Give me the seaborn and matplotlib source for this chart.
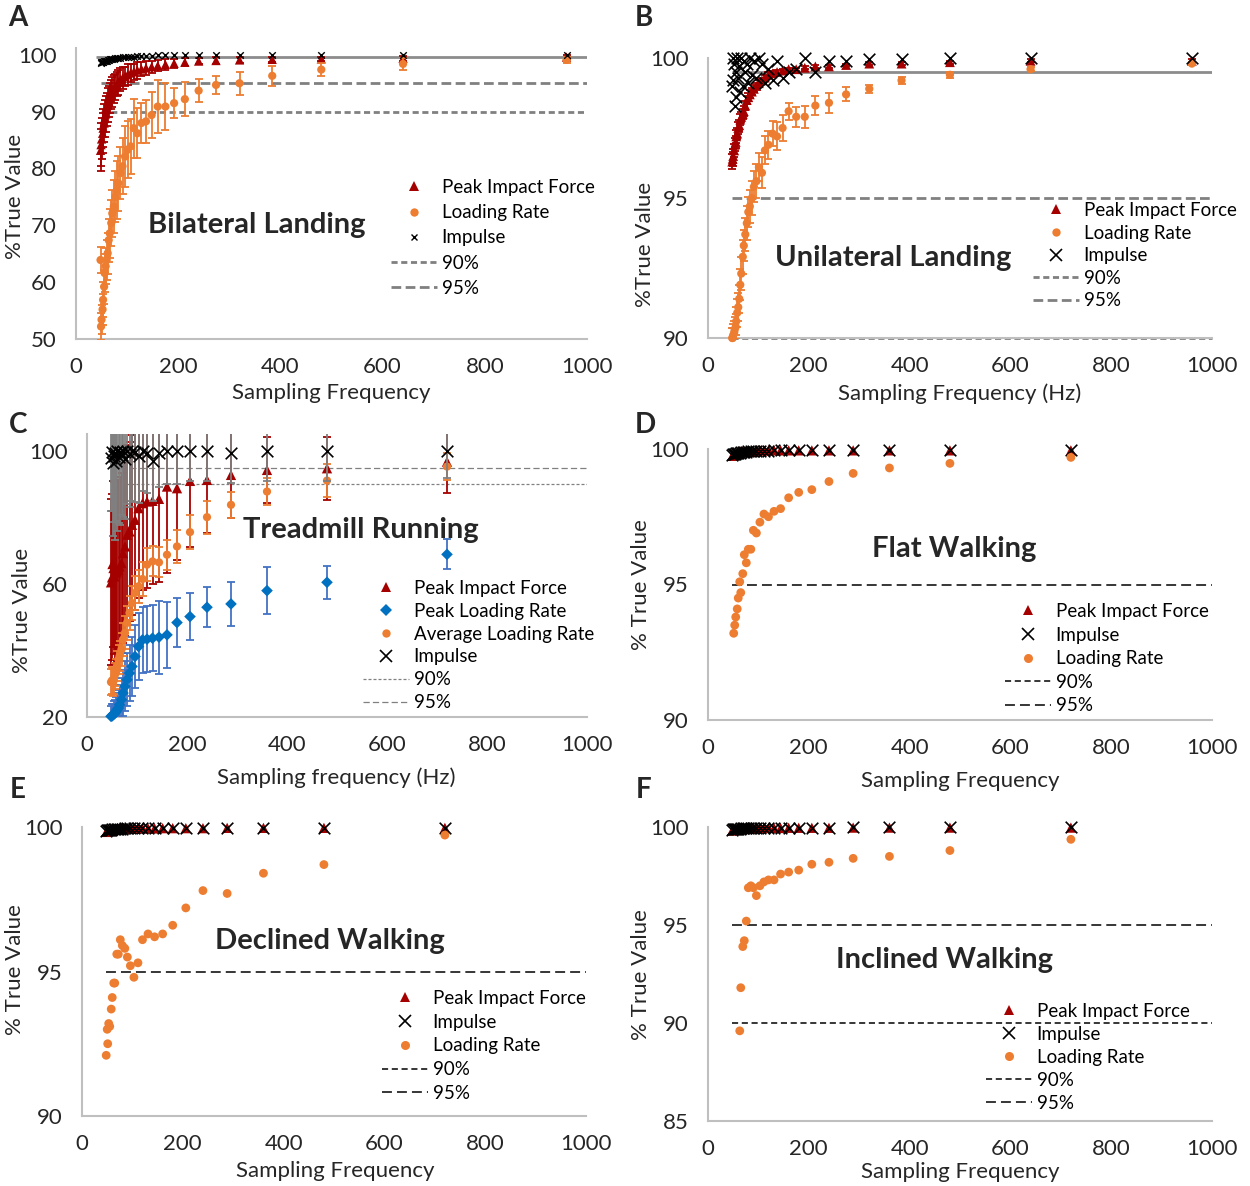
import matplotlib
matplotlib.use("Agg")
import matplotlib.pyplot as plt
from matplotlib.lines import Line2D
import seaborn as sns

# sampling frequencies (Hz)
freq_land = [960, 640, 480, 384, 320, 274, 240, 213, 192, 175, 160, 148, 137, 128, 120, 113, 107, 101, 96, 91,
             87, 83, 80, 77, 74, 71, 69, 66, 64, 62, 60, 58, 56, 55, 53, 52, 50, 49, 48]
freq_walk = [720, 480, 360, 288, 240, 206, 180, 160, 144, 131, 120, 111, 103, 96, 90, 85, 80, 76, 72, 69,
             65, 63, 60, 58, 55, 53, 51, 50, 48]

# A - bilateral landing
a_pif = [99.6, 99.4, 99.3, 99.2, 99.1, 99.0, 98.9, 98.7, 98.5, 98.3, 98.1, 97.9, 97.7, 97.5, 97.3, 97.0, 96.8,
         96.5, 96.2, 95.9, 95.6, 95.2, 94.8, 94.4, 94.0, 93.5, 93.0, 92.4, 91.8, 91.1, 90.4, 89.6, 88.8, 88.0,
         87.1, 86.2, 85.2, 84.2, 83.2]
a_pif_err = [0.3, 0.4, 0.4, 0.5, 0.5, 0.6, 0.6, 0.7, 0.8, 0.9, 1.0, 1.1, 1.2, 1.3, 1.5, 1.4, 1.6, 1.8, 1.7, 1.9,
             2.0, 2.2, 2.1, 2.3, 2.4, 2.6, 2.5, 2.7, 2.8, 3.0, 2.9, 3.1, 3.2, 3.4, 3.3, 3.5, 3.6, 3.8, 3.7]
a_lr = [99.1, 98.4, 97.4, 96.3, 95.0, 94.7, 93.7, 92.2, 91.5, 90.9, 90.9, 89.4, 88.3, 88.0, 86.2, 87.1, 83.9,
        83.3, 82.1, 80.4, 79.2, 77.4, 76.2, 75.0, 73.3, 72.1, 70.4, 68.6, 67.4, 65.1, 63.9, 62.8, 61.6, 59.2,
        56.9, 55.2, 53.4, 52.2, 63.9]
a_lr_err = [0.6, 1.0, 1.2, 1.8, 2.0, 1.6, 2.0, 3.0, 2.6, 4.2, 4.6, 4.0, 3.8, 3.5, 4.4, 5.2, 4.8, 5.0, 5.3, 4.9,
            4.6, 4.8, 5.1, 4.5, 4.7, 4.2, 4.0, 4.3, 3.8, 3.6, 3.5, 3.2, 3.4, 3.0, 3.1, 2.8, 2.6, 2.4, 2.2]
a_imp = [99.9, 99.9, 99.9, 99.9, 99.9, 99.9, 99.9, 99.9, 99.9, 99.9, 99.9, 99.8, 99.8, 99.8, 99.8, 99.7, 99.7,
         99.7, 99.6, 99.6, 99.5, 99.5, 99.4, 99.4, 99.3, 99.3, 99.2, 99.2, 99.1, 99.1, 99.0, 99.0, 98.9, 98.9,
         98.8, 98.8, 98.7, 98.7, 98.6]

# B - unilateral landing
b_pif = [99.9, 99.9, 99.85, 99.8, 99.8, 99.75, 99.7, 99.7, 99.65, 99.6, 99.6, 99.55, 99.5, 99.45, 99.4, 99.3,
         99.2, 99.1, 99.0, 98.9, 98.8, 98.7, 98.6, 98.5, 98.3, 98.1, 98.0, 97.9, 97.8, 97.6, 97.5, 97.3, 97.2,
         97.0, 96.9, 96.7, 96.5, 96.4, 96.3]
b_pif_err = [0.05, 0.05, 0.05, 0.05, 0.05, 0.05, 0.05, 0.05, 0.05, 0.06, 0.06, 0.07, 0.08, 0.08, 0.09, 0.1, 0.1,
             0.11, 0.12, 0.12, 0.13, 0.14, 0.14, 0.15, 0.16, 0.17, 0.18, 0.18, 0.19, 0.2, 0.2, 0.21, 0.22, 0.22,
             0.23, 0.24, 0.25, 0.25, 0.26]
b_lr = [99.8, 99.6, 99.4, 99.2, 98.9, 98.7, 98.4, 98.3, 97.9, 97.9, 98.1, 97.5, 97.2, 97.3, 96.9, 96.7, 95.9,
        96.1, 95.6, 95.4, 95.0, 94.7, 94.5, 94.1, 93.7, 93.3, 92.9, 92.3, 91.9, 91.4, 91.1, 90.9, 90.6, 90.4,
        90.3, 90.2, 90.1, 90.0, 90.0]
b_lr_err = [0.05, 0.08, 0.1, 0.12, 0.15, 0.25, 0.35, 0.35, 0.4, 0.35, 0.3, 0.45, 0.5, 0.45, 0.5, 0.5, 0.55, 0.5,
            0.6, 0.55, 0.6, 0.6, 0.55, 0.6, 0.6, 0.55, 0.6, 0.6, 0.55, 0.5, 0.5, 0.5, 0.5, 0.45, 0.45, 0.4, 0.4,
            0.35, 0.35]
b_imp = [100.0, 100.0, 100.0, 99.95, 99.95, 99.9, 99.9, 99.5, 100.0, 99.6, 99.5, 99.3, 99.9, 99.2, 99.6, 99.1,
         99.8, 100.0, 99.3, 99.9, 99.4, 100.0, 99.1, 99.8, 99.5, 99.9, 99.0, 100.0, 98.8, 99.7, 99.3, 100.0,
         98.6, 99.5, 98.3, 99.8, 99.2, 100.0, 99.0]

# C - treadmill running
c_pif = [96.8, 94.8, 94.3, 92.8, 91.3, 91.0, 88.8, 89.3, 85.6, 85.0, 84.8, 84.3, 82.8, 79.3, 77.8, 75.8, 74.8,
         71.3, 69.3, 66.3, 65.3, 64.3, 63.8, 63.3, 62.3, 64.8, 66.0, 62.0, 60.5]
c_pif_err = [9.5, 9.5, 10, 13, 16, 20, 21.5, 26, 25, 25, 26, 26, 27, 27, 27, 27, 27, 27, 27, 27, 27, 27, 27, 26,
             26, 26, 25, 25, 25]
c_plr = [68.9, 60.5, 58.0, 54.0, 53.0, 50.2, 48.4, 44.7, 44.0, 43.7, 43.4, 43.2, 41.2, 38.2, 35.2, 33.2, 31.2,
         29.2, 27.2, 25.2, 23.7, 22.7, 22.2, 21.5, 21.0, 20.8, 20.5, 20.3, 20.2]
c_plr_err = [4.5, 5, 7, 6.5, 6, 7, 7.5, 10, 11, 10, 10, 10, 10, 9.5, 9, 8.5, 8, 7.5, 7, 6.5, 6, 5.5, 5, 4.5, 4,
             4, 3.5, 3.5, 3]
c_alr = [95.3, 91.1, 87.8, 83.8, 80.1, 75.6, 71.3, 68.8, 66.5, 66.8, 65.8, 61.5, 59.3, 57.3, 54.3, 51.3, 48.3,
         45.3, 43.3, 40.3, 38.3, 37.3, 35.3, 33.3, 32.3, 30.8, 30.3, 31.0, 30.5]
c_alr_err = [4, 5, 4, 4, 5, 5, 5, 4.5, 4.5, 4.5, 5, 5, 5, 5, 5, 5, 5, 5, 5, 5, 4.5, 4.5, 4.5, 4, 4, 4, 4, 4, 4]
c_imp = [100, 100, 100, 99.3, 100, 100, 100, 100, 99.3, 97, 99.5, 100, 98.5, 99.7, 100, 99.2, 100, 97.5, 100,
         98.8, 99.6, 98.2, 100, 97.0, 99.3, 98.5, 96.5, 99.8, 97.8]
c_imp_err = [8, 9, 9, 9, 9, 9, 10, 10, 10, 12, 12, 12, 14, 15, 15, 16, 16, 18, 20, 18, 22, 20, 24, 18, 26, 20,
             22, 18, 16]

# D - flat walking
d_pif = [99.95, 99.95, 99.95, 99.95, 99.95, 99.95, 99.95, 99.95, 99.95, 99.95, 99.95, 99.95, 99.95, 99.95,
         99.9, 99.9, 99.9, 99.9, 99.9, 99.9, 99.9, 99.85, 99.85, 99.85, 99.8, 99.8, 99.8, 99.75, 99.75]
d_imp = [99.97, 99.97, 99.97, 99.96, 99.96, 99.96, 99.95, 99.95, 99.95, 99.95, 99.94, 99.94, 99.93, 99.93,
         99.92, 99.92, 99.91, 99.9, 99.9, 99.89, 99.88, 99.87, 99.86, 99.85, 99.84, 99.83, 99.82, 99.8, 99.78]
d_lr = [99.69, 99.47, 99.3, 99.1, 98.8, 98.5, 98.4, 98.2, 97.8, 97.7, 97.5, 97.6, 97.3, 96.9, 97.0, 96.3, 96.3,
        95.8, 96.1, 95.4, 94.7, 95.1, 94.5, 94.1, 93.8, 93.5, 93.2]

# E - declined walking
e_pif = [99.97, 99.97, 99.97, 99.97, 99.96, 99.96, 99.96, 99.96, 99.95, 99.95, 99.95, 99.95, 99.94, 99.94,
         99.94, 99.93, 99.93, 99.92, 99.92, 99.91, 99.9, 99.9, 99.89, 99.88, 99.87, 99.86, 99.85, 99.84, 99.83]
e_imp = [99.98, 99.98, 99.98, 99.98, 99.97, 99.97, 99.97, 99.97, 99.97, 99.96, 99.96, 99.96, 99.96, 99.95,
         99.95, 99.95, 99.94, 99.94, 99.94, 99.93, 99.93, 99.92, 99.92, 99.91, 99.9, 99.9, 99.89, 99.88, 99.87]
e_lr = [99.72, 98.7, 98.4, 97.7, 97.8, 97.2, 96.6, 96.3, 96.2, 96.3, 96.1, 95.3, 94.8, 95.2, 95.5, 95.8, 95.9,
        96.1, 95.6, 95.6, 94.6, 94.6, 94.1, 93.7, 93.1, 93.2, 92.5, 93.0, 92.1]

# F - inclined walking
f_pif = [99.97, 99.97, 99.97, 99.97, 99.96, 99.96, 99.96, 99.96, 99.95, 99.95, 99.95, 99.95, 99.94, 99.94,
         99.94, 99.93, 99.93, 99.92, 99.92, 99.91, 99.9, 99.9, 99.89, 99.88, 99.87, 99.86, 99.85, 99.84, 99.83]
f_imp = [99.98, 99.98, 99.98, 99.98, 99.97, 99.97, 99.97, 99.97, 99.97, 99.96, 99.96, 99.96, 99.96, 99.95,
         99.95, 99.95, 99.94, 99.94, 99.94, 99.93, 99.93, 99.92, 99.92, 99.91, 99.9, 99.9, 99.89, 99.88, 99.87]
f_lr = [99.37, 98.8, 98.5, 98.4, 98.2, 98.1, 97.8, 97.7, 97.6, 97.3, 97.3, 97.2, 97.0, 96.5, 96.9, 97.0, 96.9,
        95.2, 94.2, 93.9, 91.8, 89.6]

# style
sns.set_theme(style="white")
plt.rcParams['font.family'] = ['Lato', 'DejaVu Sans']

W, H = 1250, 1186
dark_red = '#A50000'
orange = '#ED7D31'
blue = '#0070C0'
gray = '#808080'
txt = '#262626'

fig = plt.figure(figsize=(W / 100, H / 100), dpi=100)


def new_axes(l, t, r, b, ylim, yticks):
    ax = fig.add_axes([l / W, 1 - b / H, (r - l) / W, (b - t) / H])
    ax.set_xlim(0, 1000)
    ax.set_ylim(*ylim)
    ax.set_xticks([0, 200, 400, 600, 800, 1000])
    ax.set_yticks(yticks)
    for s in ['top', 'right']:
        ax.spines[s].set_visible(False)
    for s in ['left', 'bottom']:
        ax.spines[s].set_color('#BFBFBF')
        ax.spines[s].set_linewidth(1.5)
    ax.tick_params(length=0, labelsize=16, labelcolor=txt)
    ax.tick_params(axis='x', pad=13)
    ax.tick_params(axis='y', pad=14)
    ax.patch.set_alpha(0)
    return ax


def points(ax, x, y, marker, color, s, z, lw=1.3):
    kw = dict(x=x, y=y, marker=marker, color=color, s=s, ax=ax, clip_on=False, zorder=z, legend=False)
    if marker == 'x':
        kw['linewidth'] = lw
    else:
        kw['edgecolor'] = 'none'
        kw['linewidth'] = 0
    sns.scatterplot(**kw)


def bars(ax, x, y, err, color, z, lw=1.3, cap=3):
    ax.errorbar(x, y, yerr=err, fmt='none', ecolor=color, elinewidth=lw, capsize=cap, capthick=lw, zorder=z)


def legend(ax, handles, labels, left, top, spacing):
    leg = ax.legend(handles, labels, loc='upper left', bbox_to_anchor=(left / W, 1 - top / H),
                    bbox_transform=fig.transFigure, frameon=False, fontsize=13.5, handlelength=2.45,
                    handletextpad=0.25, labelspacing=spacing, borderpad=0, borderaxespad=0)
    for t in leg.get_texts():
        t.set_color('black')


def labels(letter, lpos, xlabel, xpos, ylabel, ypos, title, tpos):
    fig.text(lpos[0] / W, 1 - lpos[1] / H, letter, fontsize=20, fontweight='bold', ha='center', va='center')
    fig.text(xpos[0] / W, 1 - xpos[1] / H, xlabel, fontsize=16, color=txt, ha='center', va='center')
    fig.text(ypos[0] / W, 1 - ypos[1] / H, ylabel, fontsize=16, color=txt, ha='center', va='center', rotation=90)
    fig.text(tpos[0] / W, 1 - tpos[1] / H, title, fontsize=21, fontweight='bold', ha='center', va='center')


def mk(marker, color, ms, mew=0):
    return Line2D([], [], marker=marker, color=color, linestyle='none', markersize=ms, markeredgewidth=mew)


def ln(color, dash, lw):
    return Line2D([], [], color=color, linestyle=(0, dash), lw=lw)


# ---- A
ax = new_axes(76, 48, 587, 339, (50, 101.2), [50, 60, 70, 80, 90, 100])
ax.hlines(99.6, 40, 1000, colors='#8C8C8C', lw=2, zorder=1)
ax.hlines(95, 48, 1000, colors=gray, linestyles=[(0, (3.5, 1.6))], lw=2, zorder=1)
ax.hlines(90, 48, 1000, colors=gray, linestyles=[(0, (2.2, 1.3))], lw=2, zorder=1)
bars(ax, freq_land, a_pif, a_pif_err, dark_red, 2)
points(ax, freq_land, a_pif, '^', dark_red, 45, 3)
bars(ax, freq_land, a_lr, a_lr_err, orange, 4)
points(ax, freq_land, a_lr, 'o', orange, 35, 5)
points(ax, freq_land, a_imp, 'x', 'black', 22, 6, lw=1.0)
legend(ax, [mk('^', dark_red, 7), mk('o', orange, 6), mk('x', 'black', 5, 1.0),
            ln(gray, (2.2, 1.3), 2), ln(gray, (3.5, 1.6), 2)],
       ['Peak Impact Force', 'Loading Rate', 'Impulse', '90%', '95%'], 391, 179, 0.44)
labels('A', (18, 18), 'Sampling Frequency', (331, 393), '%True Value', (15, 196),
       'Bilateral Landing', (257, 225))

# ---- B
ax = new_axes(708, 58, 1212, 338, (90, 100), [90, 95, 100])
ax.hlines(99.5, 48, 1000, colors='#8C8C8C', lw=2, zorder=1)
ax.hlines(95, 48, 1000, colors=gray, linestyles=[(0, (3.5, 1.6))], lw=2, zorder=1)
ax.hlines(90, 48, 1000, colors=gray, linestyles=[(0, (2.2, 1.3))], lw=2, zorder=1, clip_on=False)
bars(ax, freq_land, b_pif, b_pif_err, dark_red, 2)
points(ax, freq_land, b_pif, '^', dark_red, 50, 3)
bars(ax, freq_land, b_lr, b_lr_err, orange, 4)
points(ax, freq_land, b_lr, 'o', orange, 35, 5)
points(ax, freq_land, b_imp, 'x', 'black', 70, 6, lw=1.2)
legend(ax, [mk('^', dark_red, 7), mk('o', orange, 6), mk('x', 'black', 8, 1.2),
            ln(gray, (2.2, 1.3), 2), ln(gray, (3.5, 1.6), 2)],
       ['Peak Impact Force', 'Loading Rate', 'Impulse', '90%', '95%'], 1033, 202, 0.3)
labels('B', (644, 18), 'Sampling Frequency (Hz)', (960, 394), '%True Value', (645, 244),
       'Unilateral Landing', (893, 258))

# ---- C
ax = new_axes(87, 434, 587, 717, (20, 105.1), [20, 60, 100])
ax.hlines(95, 48, 1000, colors=gray, linestyles=[(0, (5, 2.5))], lw=0.9, zorder=1)
ax.hlines(90, 48, 1000, colors=gray, linestyles=[(0, (2.4, 1.6))], lw=0.9, zorder=1)
bars(ax, freq_walk, c_pif, c_pif_err, dark_red, 2)
points(ax, freq_walk, c_pif, '^', dark_red, 55, 3)
bars(ax, freq_walk, c_plr, c_plr_err, '#4472C4', 4)
points(ax, freq_walk, c_plr, 'D', blue, 35, 5)
bars(ax, freq_walk, c_alr, c_alr_err, orange, 6)
points(ax, freq_walk, c_alr, 'o', orange, 35, 7)
bars(ax, freq_walk, c_imp, c_imp_err, gray, 8)
points(ax, freq_walk, c_imp, 'x', 'black', 70, 9, lw=1.2)
legend(ax, [mk('^', dark_red, 7), mk('D', blue, 6), mk('o', orange, 6), mk('x', 'black', 8, 1.2),
            ln(gray, (2.4, 1.6), 0.9), ln(gray, (5, 2.5), 0.9)],
       ['Peak Impact Force', 'Peak Loading Rate', 'Average Loading Rate', 'Impulse', '90%', '95%'],
       363, 580, 0.31)
labels('C', (18, 425), 'Sampling frequency (Hz)', (336, 778), '%True Value', (22, 610),
       'Treadmill Running', (361, 530))

# ---- D, E, F walking panels
walk = [
    ('D', (708, 449, 1212, 720), (90, 100), [90, 95, 100], d_pif, d_imp, d_lr, (1005, 603), 0.35,
     (645, 425), (960, 781), (641, 585), 'Flat Walking', (954, 549)),
    ('E', (82, 827, 586, 1116), (90, 100), [90, 95, 100], e_pif, e_imp, e_lr, (382, 990), 0.36,
     (18, 790), (335, 1171), (15, 970), 'Declined Walking', (330, 941)),
    ('F', (708, 827, 1212, 1121), (85, 100), [85, 90, 95, 100], f_pif, f_imp, f_lr, (986, 1003), 0.32,
     (644, 790), (960, 1172), (641, 975), 'Inclined Walking', (944, 960)),
]
for (letter, box, ylim, yt, pif, imp, lr, lpos, sp, letpos, xlpos, ylpos, title, tpos) in walk:
    ax = new_axes(*box, ylim, yt)
    ax.hlines(95, 48, 1000, colors='black', linestyles=[(0, (6.5, 3.3))], lw=1.1, zorder=1)
    ax.hlines(90, 48, 1000, colors='black', linestyles=[(0, (4, 2.4))], lw=1.1, zorder=1, clip_on=False)
    points(ax, freq_walk, pif, '^', dark_red, 55, 3)
    points(ax, freq_walk, imp, 'x', 'black', 70, 4, lw=1.2)
    points(ax, freq_walk[:len(lr)], lr, 'o', orange, 40, 5)
    legend(ax, [mk('^', dark_red, 7), mk('x', 'black', 8, 1.2), mk('o', orange, 6.5),
                ln('black', (4, 2.4), 1.1), ln('black', (6.5, 3.3), 1.1)],
           ['Peak Impact Force', 'Impulse', 'Loading Rate', '90%', '95%'], lpos[0], lpos[1], sp)
    labels(letter, letpos, 'Sampling Frequency', xlpos, '% True Value', ylpos, title, tpos)

fig.savefig('out.png', dpi=100)
